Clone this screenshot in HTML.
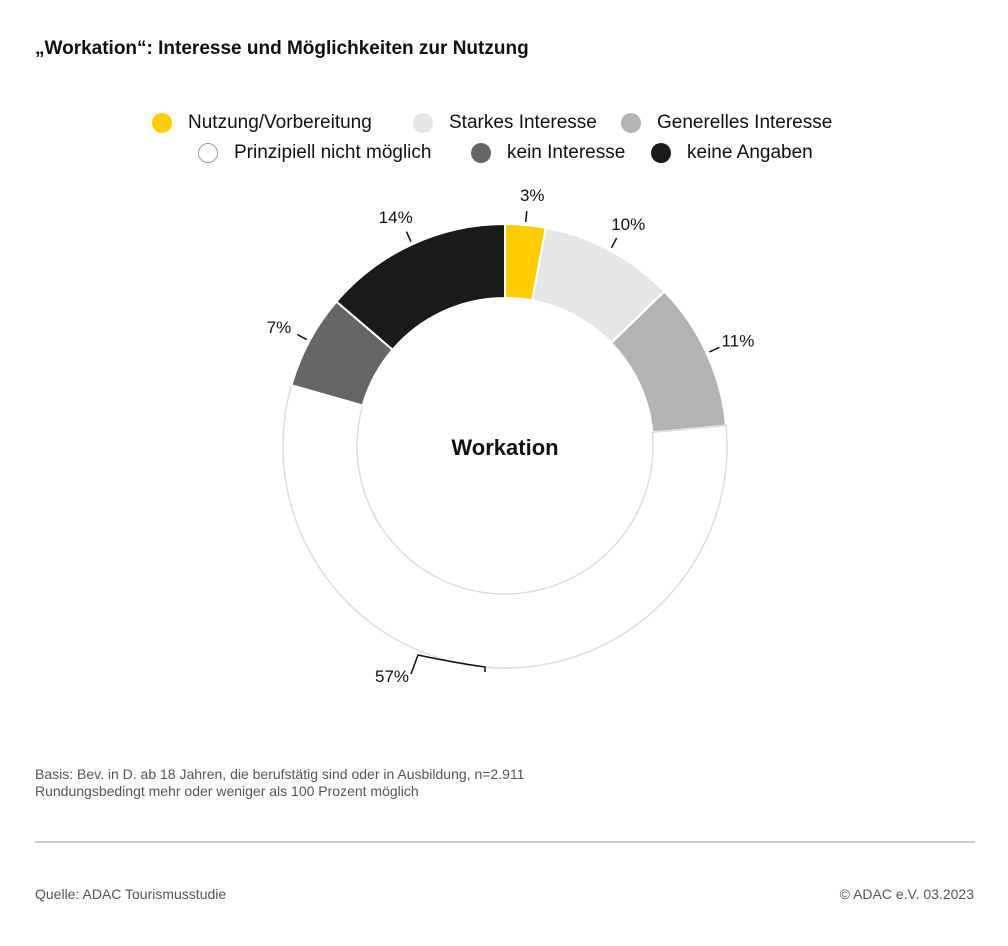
<!DOCTYPE html>
<html><head><meta charset="utf-8"><style>
body{margin:0;width:1008px;height:946px;background:#fff;font-family:"Liberation Sans",sans-serif;color:#111;position:relative;overflow:hidden}
.t{position:absolute;white-space:nowrap}
.leg{position:absolute;font-size:19px;display:flex;align-items:center;white-space:nowrap}
.dot{width:20px;height:20px;border-radius:50%;margin-right:16px;box-sizing:border-box}
</style></head><body>
<div class="t" style="left:35px;top:38px;font-size:19px;font-weight:bold">„Workation“: Interesse und Möglichkeiten zur Nutzung</div>
<div id="legend"></div>
<svg id="chart" width="1008" height="946" style="position:absolute;left:0;top:0"></svg>
<div class="t" style="left:35px;top:766px;font-size:14px;color:#555;line-height:17px">Basis: Bev. in D. ab 18 Jahren, die berufstätig sind oder in Ausbildung, n=2.911<br>Rundungsbedingt mehr oder weniger als 100 Prozent möglich</div>
<div style="position:absolute;left:35px;top:841px;width:940px;height:2px;background:#ccc"></div>
<div class="t" style="left:35px;top:886px;font-size:14px;color:#555">Quelle: ADAC Tourismusstudie</div>
<div class="t" style="right:34px;top:886px;font-size:14px;color:#555">© ADAC e.V. 03.2023</div>
<script>
const categories=["Nutzung/Vorbereitung","Starkes Interesse","Generelles Interesse","Prinzipiell nicht möglich","kein Interesse","keine Angaben"];
const values=[3,10,11,57,7,14];
const colors=["#ffcc00","#e6e6e6","#b3b3b3","#ffffff","#666666","#1a1a1a"];
const legendPos=[[152,112],[413,112],[621,112],[198,142],[471,142],[651,142]];
const leg=document.getElementById('legend');
categories.forEach((c,i)=>{
  const d=document.createElement('div');d.className='leg';
  
  
  d.style.left=legendPos[i][0]+'px';d.style.top=legendPos[i][1]+'px';
  d.innerHTML='<div class="dot" style="background:'+colors[i]+';'+(i==3?'border:1.5px solid #999':'')+'"></div>'+c;
  leg.appendChild(d);
});
const svg=document.getElementById('chart');const NS='http://www.w3.org/2000/svg';
const cx=505,cy=446,R=222,r=148;
const total=values.reduce((a,b)=>a+b,0);
function pt(a,rad){return [cx+rad*Math.sin(a),cy-rad*Math.cos(a)];}
function mk(t,attrs){const e=document.createElementNS(NS,t);for(const k in attrs)e.setAttribute(k,attrs[k]);svg.appendChild(e);return e;}
let acc=0;
values.forEach((v,i)=>{
  const a0=acc/total*2*Math.PI,a1=(acc+v)/total*2*Math.PI;acc+=v;
  const lg=(a1-a0)>Math.PI?1:0;
  const p0=pt(a0,R),p1=pt(a1,R),q1=pt(a1,r),q0=pt(a0,r);
  const p=mk('path',{d:`M${p0} A${R},${R} 0 ${lg} 1 ${p1} L${q1} A${r},${r} 0 ${lg} 0 ${q0}Z`,fill:colors[i],stroke:i==3?'#dcdcdc':'#fff','stroke-width':i==3?1.5:2});
  
  
  const m=(a0+a1)/2;
  if(i==3){
    mk('path',{d:'M485,672 L485,667 Q450,662 418,655 L411,674',fill:'none',stroke:'#111','stroke-width':1.5});
    const t=mk('text',{x:392,y:682,'text-anchor':'middle','font-size':17,fill:'#111'});t.textContent=v+'%';
    
    
  } else {
    const l0=pt(m,R+3),l1=pt(m,R+14),lp=pt(m,R+30);
    mk('line',{x1:l0[0],y1:l0[1],x2:l1[0],y2:l1[1],stroke:'#111','stroke-width':1.5});
    const t=mk('text',{x:lp[0]+(Math.sin(m)>0?4:-4),y:lp[1]+6,'text-anchor':'middle','font-size':17,fill:'#111'});t.textContent=v+'%';
    
    
  }
});
const c=mk('text',{x:cx,y:455,'text-anchor':'middle','font-size':22,'font-weight':'bold',fill:'#111'});c.textContent='Workation';


</script>
</body></html>
